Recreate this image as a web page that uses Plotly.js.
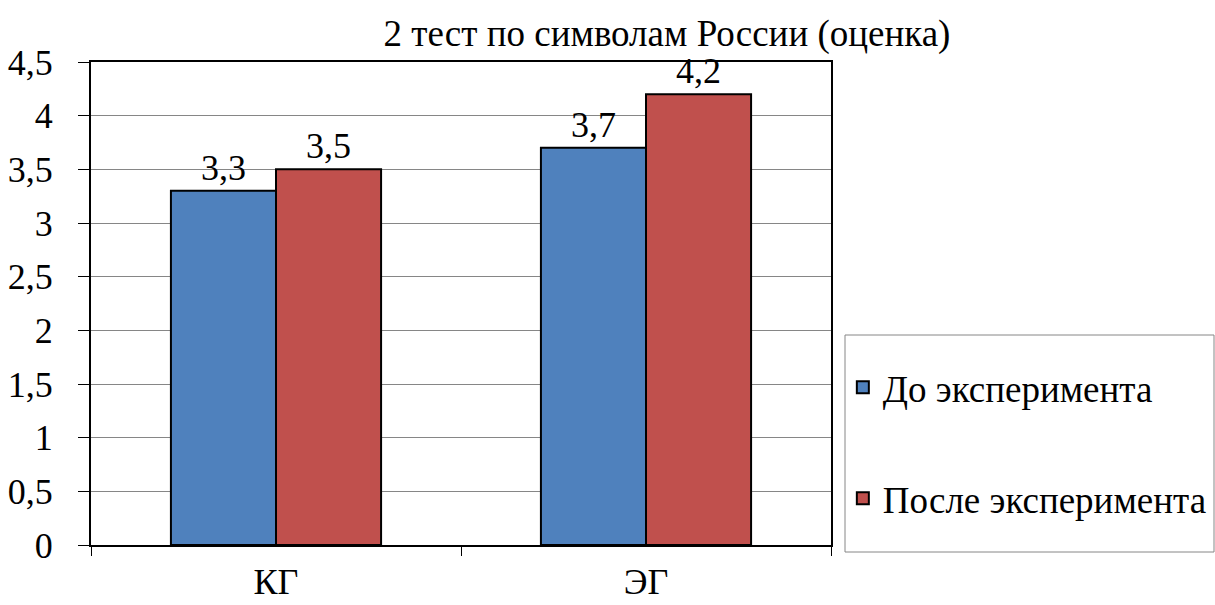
<!DOCTYPE html>
<html>
<head>
<meta charset="utf-8">
<script src="https://cdn.plot.ly/plotly-3.0.1.min.js"></script>
<style>html,body{margin:0;padding:0;background:#fff;}#chart{width:1215px;height:605px;}</style>
</head>
<body>
<div id="chart"></div>
<script>
const categories = ["КГ", "ЭГ"];
const seriesNames = ["До эксперимента", "После эксперимента"];
const before = [3.3, 3.7];
const after = [3.5, 4.2];
const chartTitle = "2 тест по символам России (оценка)";

const FONT = "Liberation Serif, Times New Roman, serif";
const fmt = v => String(v).replace('.', ',');

const traces = [
  {type:'bar', name:seriesNames[0], x:categories, y:before, legendgroup:'a',
   marker:{color:'#4F81BD', line:{color:'#000', width:2}},
   text:before.map(fmt), textposition:'outside', cliponaxis:false,
   textfont:{family:FONT, size:36, color:'#000'}, hoverinfo:'none'},
  {type:'bar', name:seriesNames[1], x:categories, y:after, legendgroup:'b',
   marker:{color:'#C0504D', line:{color:'#000', width:2}},
   text:after.map(fmt), textposition:'outside', cliponaxis:false,
   textfont:{family:FONT, size:36, color:'#000'}, hoverinfo:'none'}
];

const layout = {
  width:1215, height:605,
  margin:{l:91, r:384, t:62, b:60, autoexpand:false},
  paper_bgcolor:'#fff', plot_bgcolor:'#fff',
  separators:',.',
  font:{family:FONT, size:36, color:'#000'},
  title:{text:chartTitle, x:0.549, xanchor:'center', y:0.945, yanchor:'middle',
         font:{family:FONT, size:37, color:'#000'}},
  barmode:'group', bargap:0.432, bargroupgap:0,
  xaxis:{type:'category', showline:true, linecolor:'#000', linewidth:2, mirror:true,
         ticks:'outside', tickson:'boundaries', ticklen:9, tickcolor:'#000', tickwidth:1,
         ticklabelstandoff:4, automargin:false,
         tickfont:{family:FONT, size:36, color:'#000'}, showgrid:false, fixedrange:true},
  yaxis:{range:[0,4.5], dtick:0.5, tick0:0, showline:true, linecolor:'#000', linewidth:2, mirror:true,
         ticks:'outside', ticklen:11, tickcolor:'#000', tickwidth:1, ticklabelstandoff:18,
         showgrid:true, gridcolor:'#868686', gridwidth:1, zeroline:false, automargin:false,
         tickfont:{family:FONT, size:36, color:'#000'}, fixedrange:true},
  showlegend:true,
  legend:{x:1.016, xanchor:'left', y:0.39, yanchor:'top', bgcolor:'rgba(0,0,0,0)', borderwidth:0,
          font:{family:FONT, size:37, color:'#000'}, traceorder:'grouped', tracegroupgap:60,
          itemwidth:30},
  shapes:[{type:'rect', xref:'paper', yref:'paper', x0:(845-91)/740, x1:(1214-91)/740,
           y0:(545-552)/483, y1:(545-335)/483, line:{color:'#868686', width:1}, fillcolor:'rgba(0,0,0,0)'}]
};

Plotly.newPlot('chart', traces, layout, {displayModeBar:false, staticPlot:true});
</script>
</body>
</html>
